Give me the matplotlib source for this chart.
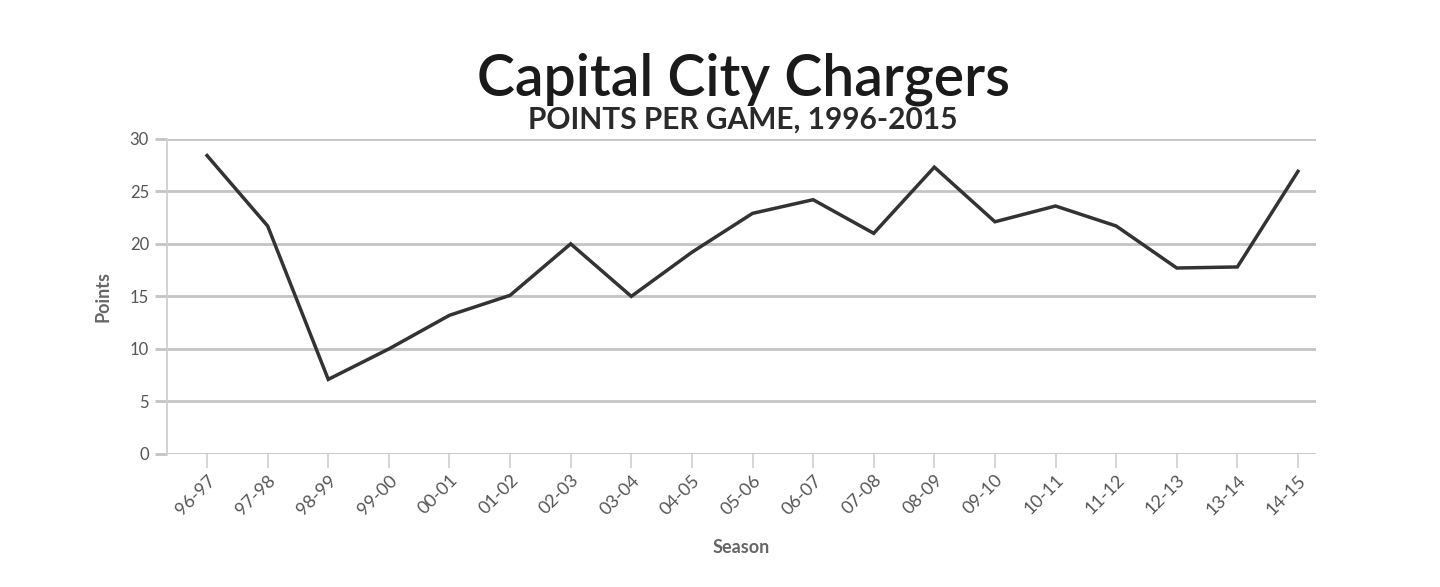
import matplotlib
matplotlib.use("Agg")
import matplotlib.pyplot as plt

seasons = ["96-97", "97-98", "98-99", "99-00", "00-01", "01-02", "02-03", "03-04",
           "04-05", "05-06", "06-07", "07-08", "08-09", "09-10", "10-11", "11-12",
           "12-13", "13-14", "14-15"]
points = [28.4, 21.7, 7.1, 10.0, 13.2, 15.1, 20.0, 15.0,
          19.2, 22.9, 24.2, 21.0, 27.3, 22.1, 23.6, 21.7,
          17.7, 17.8, 26.9]
yticks = [0, 5, 10, 15, 20, 25, 30]

plt.rcParams['font.family'] = ['Lato', 'DejaVu Sans']

fig = plt.figure(figsize=(14.4, 5.87), dpi=100)
ax = fig.add_axes([0.116, 0.2266, 0.798, 0.537])

x = list(range(len(seasons)))
ax.plot(x, points, color='#333333', linewidth=2.5, solid_joinstyle='miter', zorder=3)

ax.set_xlim(-0.66, 18.3)
ax.set_ylim(0, 30)
ax.set_yticks(yticks)
ax.set_xticks(x)
ax.set_xticklabels(seasons, rotation=45, ha='right', rotation_mode='anchor')

grid_c = '#c4c4c4'
ax.yaxis.grid(True, color=grid_c, linewidth=2.0, zorder=1)
ax.xaxis.grid(False)
ax.set_axisbelow(True)

for s in ['top', 'right', 'bottom']:
    ax.spines[s].set_visible(False)
ax.spines['left'].set_color('#cfcfcf')
ax.spines['left'].set_linewidth(1.3)

ax.tick_params(axis='y', length=9, width=2.0, color=grid_c, labelsize=12, labelcolor='#555555', pad=4)
ax.tick_params(axis='x', length=10, width=1.2, color='#cfcfcf', labelsize=13, labelcolor='#555555', pad=3)

ax.set_ylabel('Points', fontsize=13, color='#666666', fontweight='bold', labelpad=13)
ax.set_xlabel('Season', fontsize=13, color='#666666', fontweight='bold', labelpad=15)

fig.text(0.516, 0.865, 'Capital City Chargers', ha='center', va='center',
         fontsize=41, fontweight='semibold', color='#1a1a1a')
fig.text(0.516, 0.797, 'POINTS PER GAME, 1996-2015', ha='center', va='center',
         fontsize=21.5, fontweight='bold', color='#2a2a2a')

fig.savefig('out.png', dpi=100)
